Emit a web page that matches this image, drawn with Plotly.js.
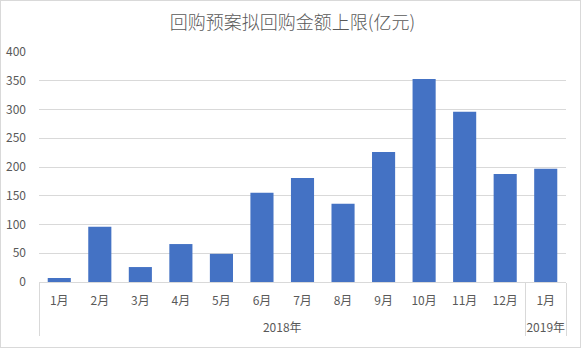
<!DOCTYPE html>
<html>
<head>
<meta charset="utf-8">
<script src="https://cdn.plot.ly/plotly-3.0.1.min.js"></script>
<style>
html,body{margin:0;padding:0;background:#fff;}
#wrap{position:relative;width:585px;height:353px;}
#chart{position:absolute;left:0;top:0;width:585px;height:353px;}
#frame{position:absolute;left:0;top:0;width:579px;height:346px;border:1px solid #d9d9d9;pointer-events:none;}
</style>
</head>
<body>
<div id="wrap"><div id="chart"></div><div id="frame"></div></div>
<script>
var years = ["2018年","2018年","2018年","2018年","2018年","2018年","2018年","2018年","2018年","2018年","2018年","2018年","2019年"];
var months = ["1月","2月","3月","4月","5月","6月","7月","8月","9月","10月","11月","12月","1月"];
var values = [7, 96, 26, 66, 49, 155, 181, 136, 226, 353, 296, 188, 197];
var chartTitle = "回购预案拟回购金额上限(亿元)";

var font = '"Noto Sans CJK SC", "Noto Sans", sans-serif';
// a leading line break gives the year row the extra spacing of the reference
var yearLabels = years.map(function (y) { return '<br>' + y; });
var trace = {
  type: 'bar',
  x: [yearLabels, months],
  y: values,
  marker: {color: '#4472c4'},
  hoverinfo: 'x+y'
};
var layout = {
  width: 585, height: 353,
  margin: {l: 39, r: 19, t: 52, b: 71},
  paper_bgcolor: '#fff', plot_bgcolor: '#fff',
  bargap: 0.43,
  showlegend: false,
  title: {text: chartTitle, x: 0.5, xanchor: 'center', y: 0.937, yanchor: 'middle',
          font: {family: font, size: 18, color: '#595959', weight: 300}},
  font: {family: font, size: 12, color: '#595959'},
  xaxis: {
    type: 'multicategory',
    showline: true, linecolor: '#d9d9d9', linewidth: 1,
    showgrid: false, ticks: '',
    ticklabelstandoff: 8,
    showdividers: true, dividercolor: '#d9d9d9', dividerwidth: 1,
    tickfont: {family: font, size: 12, color: '#595959'}
  },
  yaxis: {
    range: [0, 400], dtick: 50, tick0: 0,
    showgrid: true, gridcolor: '#d9d9d9', gridwidth: 1,
    zeroline: false, showline: false, ticks: '',
    ticklabelstandoff: 12,
    tickfont: {family: font, size: 12, color: '#595959'}
  }
};
Plotly.newPlot('chart', [trace], layout, {displayModeBar: false, staticPlot: true});
</script>
</body>
</html>
